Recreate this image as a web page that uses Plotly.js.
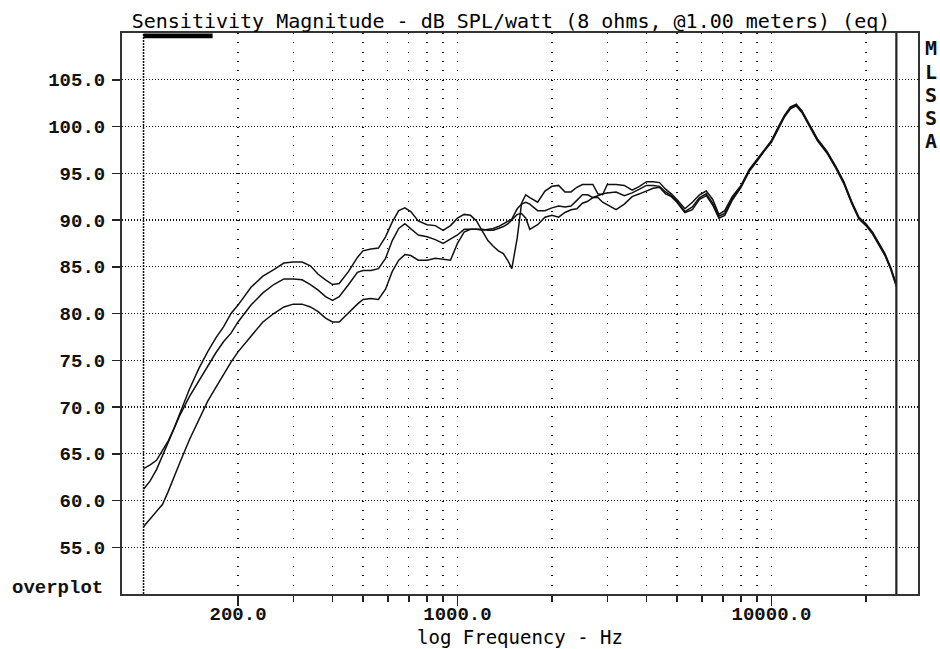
<!DOCTYPE html>
<html>
<head>
<meta charset="utf-8">
<script src="https://cdn.plot.ly/plotly-3.0.1.min.js"></script>
<style>html,body{margin:0;padding:0;background:#fff;}#chart{width:940px;height:649px;}</style>
</head>
<body>
<div id="chart"></div>
<script>
// Frequency (Hz)
const freq = [100,105,110,115,120,125,130,140,150,160,170,180,190,200,220,240,260,280,300,320,340,360,380,400,420,450,480,500,530,560,590,620,650,680,710,750,800,850,900,950,1000,1050,1100,1150,1200,1250,1300,1350,1400,1450,1490,1550,1600,1650,1700,1800,1900,2000,2100,2200,2300,2400,2500,2600,2700,2800,2900,3000,3200,3400,3600,3800,4000,4200,4400,4600,4800,5000,5300,5600,5900,6200,6500,6800,7100,7500,8000,8500,9000,9500,10000,10500,11000,11500,12000,12500,13000,14000,15000,16000,17000,18000,19000,20000,21000,22000,23000,24000,25000];

// Sensitivity, dB SPL/watt - three overplotted curves
const curveA = [63.4,63.8,64.3,65.3,66.4,67.7,69.2,71.9,74.1,75.9,77.4,78.6,80.0,80.9,82.8,84.0,84.7,85.4,85.5,85.5,85.1,84.2,83.6,83.1,83.2,84.5,86.0,86.7,86.9,87.0,88.2,89.8,91.0,91.3,90.9,89.9,89.5,89.4,88.9,89.4,90.2,90.6,90.5,89.9,88.8,87.8,87.2,86.7,86.4,85.6,84.8,88.1,91.8,92.7,92.4,91.9,93.1,93.6,93.7,93.0,93.0,93.5,93.8,93.8,93.8,92.8,92.7,93.8,93.8,93.7,93.2,93.6,94.1,94.1,94.0,93.3,92.8,92.2,91.2,91.9,92.7,93.1,92.2,90.6,91.0,92.5,93.7,95.4,96.5,97.6,98.5,99.9,101.2,102.1,102.4,101.7,100.7,98.7,97.4,95.8,94.1,92.0,90.3,89.6,88.7,87.5,86.4,84.9,83.1];
const curveB = [61.2,62.1,63.3,64.8,66.3,67.7,69.0,71.1,72.8,74.4,75.8,77.0,77.9,79.1,80.9,82.2,83.1,83.7,83.7,83.6,83.1,82.5,81.8,81.4,81.8,83.1,84.4,84.6,84.6,84.8,85.9,87.8,89.1,89.6,89.1,88.4,88.2,87.9,87.5,88.0,88.4,89.0,89.0,89.0,88.9,89.0,89.1,89.3,89.6,89.9,90.1,91.2,91.7,91.9,91.7,91.0,91.0,91.3,91.5,91.4,91.5,92.1,92.7,92.7,92.4,92.6,92.8,92.9,93.0,92.6,92.9,93.3,93.7,93.7,93.6,93.0,92.6,92.0,90.9,91.4,92.4,92.8,91.8,90.4,90.7,92.3,93.6,95.3,96.4,97.5,98.4,99.8,101.1,102.0,102.3,101.6,100.6,98.6,97.3,95.7,94.0,91.9,90.2,89.5,88.6,87.4,86.3,84.8,83.0];
const curveC = [57.2,58.0,58.8,59.6,61.0,62.4,63.9,66.5,68.7,70.6,72.1,73.5,74.8,75.9,77.6,79.1,80.0,80.7,81.0,81.0,80.7,80.2,79.5,79.1,79.1,80.1,81.0,81.5,81.6,81.5,82.6,84.5,85.7,86.3,86.2,85.7,85.7,85.9,85.8,85.7,87.5,88.7,89.0,89.0,89.0,88.9,88.9,89.1,89.3,89.6,90.0,90.6,90.7,90.2,89.0,89.5,90.3,90.5,90.3,90.8,91.1,91.2,91.8,92.0,92.4,92.4,91.9,91.6,91.1,91.7,92.5,92.8,93.1,93.4,93.5,92.8,92.5,91.9,90.8,91.1,92.2,92.6,91.6,90.2,90.5,92.1,93.5,95.2,96.3,97.4,98.3,99.7,101.0,101.9,102.2,101.5,100.5,98.5,97.2,95.6,93.9,91.8,90.1,89.4,88.5,87.3,86.2,84.7,82.9];

// Axis ticks
const xMajorTicks = [200, 1000, 10000];
const xMajorLabels = ["200.0", "1000.0", "10000.0"];
const xMinorTicks = [300,400,500,600,700,800,900,2000,3000,4000,5000,6000,7000,8000,9000,20000];
const yTicks = [55,60,65,70,75,80,85,90,95,100,105];
const yLabels = ["55.0","60.0","65.0","70.0","75.0","80.0","85.0","90.0","95.0","100.0","105.0"];
const xRangeHz = [85.4, 29300];
const yRange = [50, 110];
const markerLineHz = 100;      // dashed marker line
const endLineHz = 25000;       // end-of-data line
const cursorBarHz = [100, 166];
const sideLetters = ['M', 'L', 'S', 'S', 'A'];

const lineStyle = {color: '#111', width: 1.5};
const traces = [curveA, curveB, curveC].map(function (c, i) {
  return {x: freq, y: c, type: 'scatter', mode: 'lines', line: lineStyle,
          name: ['A','B','C'][i], hoverinfo: 'skip'};
});

const tickFont = {family: 'Liberation Mono, DejaVu Sans Mono, monospace', size: 19, color: '#111', weight: 'bold'};
const monoFont = {family: 'DejaVu Sans Mono, monospace', size: 20, color: '#000'};

const annotations = [
  {text: 'overplot', xref: 'paper', yref: 'paper', x: (57 - 122) / 796, y: (594 - 588) / 561,
   xanchor: 'center', yanchor: 'middle', showarrow: false, font: tickFont},
  {text: 'log Frequency - Hz', xref: 'paper', yref: 'paper', x: 0.5, y: (594 - 637) / 561,
   xanchor: 'center', yanchor: 'middle', showarrow: false,
   font: {family: 'DejaVu Sans Mono, monospace', size: 19, color: '#000'}}
];
sideLetters.forEach(function (ch, i) {
  annotations.push({text: ch, xref: 'paper', yref: 'paper', x: (931.5 - 122) / 796,
    y: (594 - (48.5 + i * 23.2)) / 561, xanchor: 'center', yanchor: 'middle', showarrow: false,
    font: {family: 'DejaVu Sans Mono, monospace', size: 20, color: '#111', weight: 'bold'}});
});

const layout = {
  width: 940, height: 649,
  margin: {l: 122, r: 22, t: 33, b: 55, pad: 0},
  paper_bgcolor: '#fff', plot_bgcolor: '#fff',
  showlegend: false,
  title: {text: 'Sensitivity Magnitude - dB SPL/watt (8 ohms, @1.00 meters) (eq)',
          font: monoFont, x: 511/940, xanchor: 'center', xref: 'container',
          y: 1 - 21/649, yanchor: 'middle', yref: 'container'},
  xaxis: {
    type: 'log', range: [Math.log10(xRangeHz[0]), Math.log10(xRangeHz[1])],
    tickmode: 'array', tickvals: xMajorTicks, ticktext: xMajorLabels,
    ticks: 'outside', ticklen: 10, tickwidth: 1.5, tickcolor: '#222',
    tickfont: tickFont, ticklabelstandoff: -9,
    showgrid: true, gridcolor: '#111', gridwidth: 1.3, griddash: '1px,8.35px',
    minor: {tickmode: 'array', tickvals: xMinorTicks, ticks: 'outside', ticklen: 6,
            tickwidth: 1.5, tickcolor: '#222', showgrid: true, gridcolor: '#111',
            gridwidth: 1.3, griddash: '1px,8.35px'},
    showline: true, linecolor: '#333', linewidth: 2, mirror: true,
    zeroline: false,
    title: {text: ''}
  },
  yaxis: {
    range: yRange, tickmode: 'array', tickvals: yTicks, ticktext: yLabels,
    ticks: 'outside', ticklen: 8, tickwidth: 1.5, tickcolor: '#222',
    tickfont: tickFont, ticklabelstandoff: 3,
    showgrid: true, gridcolor: '#111', gridwidth: 1.2, griddash: '1px,2px',
    showline: true, linecolor: '#333', linewidth: 2, mirror: true,
    zeroline: false
  },
  shapes: [
    {type: 'line', xref: 'x', yref: 'paper', x0: markerLineHz, x1: markerLineHz, y0: 0, y1: 1,
     line: {color: '#111', width: 1.5, dash: '2px,1px'}},
    {type: 'line', xref: 'x', yref: 'paper', x0: endLineHz, x1: endLineHz, y0: 0, y1: 1,
     line: {color: '#222', width: 2.2}},
    {type: 'rect', xref: 'x', yref: 'paper', x0: cursorBarHz[0], x1: cursorBarHz[1], y0: 0.9905, y1: 0.999,
     fillcolor: '#000', line: {width: 0}}
  ],
  annotations: annotations
};

Plotly.newPlot('chart', traces, layout, {staticPlot: true, displayModeBar: false});
</script>
</body>
</html>
